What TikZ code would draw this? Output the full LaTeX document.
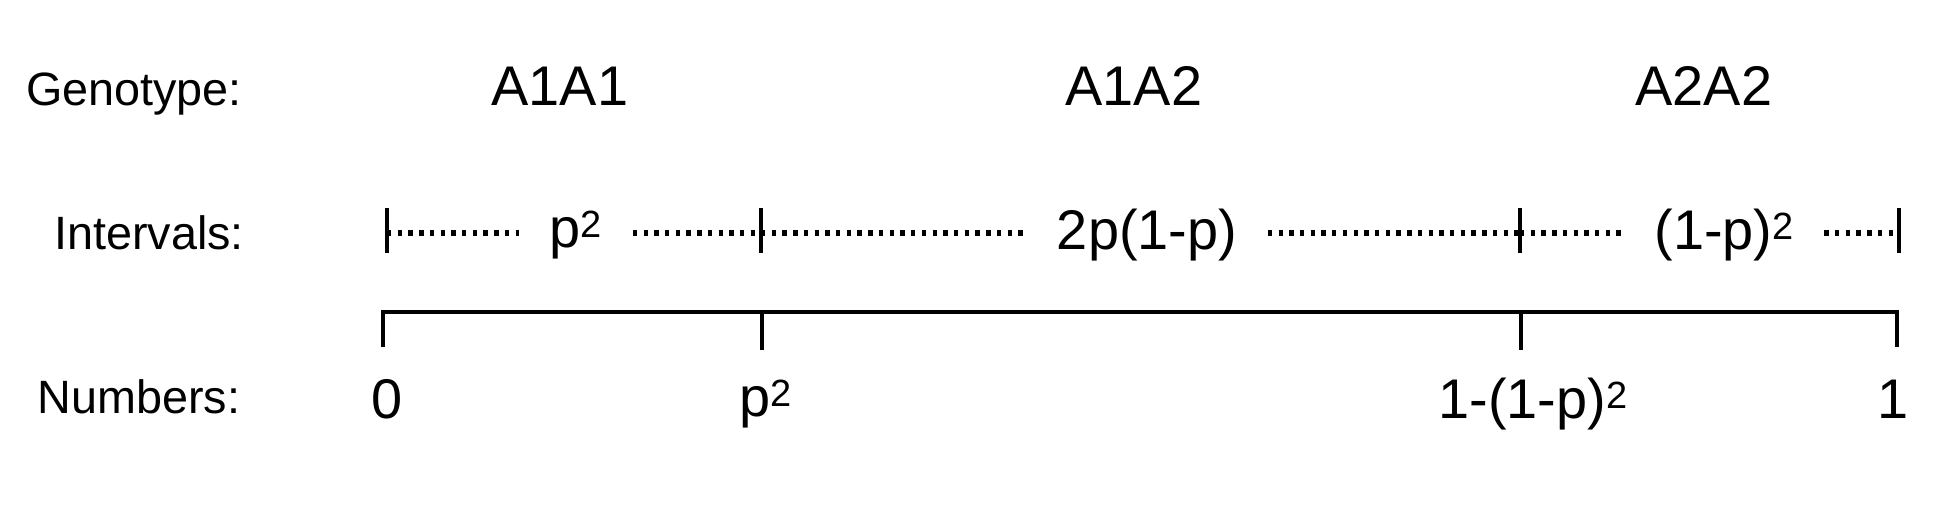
\documentclass[tikz,border=0pt]{standalone}
\usepackage{fontspec}
\setmainfont{Liberation Sans}

% small raised 2 in the text font
\newcommand{\sqtwo}{\raisebox{2.9pt}{\fontsize{10.8}{12}\selectfont 2}}

\begin{document}
\begin{tikzpicture}[
every node/.style={inner sep=0pt, anchor=base},
rowlabel/.style={font=\fontsize{13.3}{16}\selectfont},
genolabel/.style={font=\fontsize{15.9}{19}\selectfont},
intlabel/.style={font=\fontsize{15.9}{19}\selectfont, inner xsep=0.3cm},
numlabel/.style={font=\fontsize{15.9}{19}\selectfont},
tick/.style={line width=1.15pt},
axisline/.style={line width=1.15pt},
dotline/.style={line width=1.45pt, dash pattern=on 1.25pt off 1.8pt}
]

\useasboundingbox (0,0) rectangle (19.5,-5.09);

% =====================================================
% Row labels
% =====================================================

\node (genotype) [rowlabel] at (1.34,-1.06) {Genotype:};
\node (intervals) [rowlabel] at (1.49,-2.50) {Intervals:};
\node (numbers) [rowlabel] at (1.39,-4.14) {Numbers:};

% =====================================================
% Genotypes
% =====================================================

\node (aa11) [genolabel] at (5.60,-1.06) {A1A1};
\node (aa12) [genolabel] at (11.34,-1.06) {A1A2};
\node (aa22) [genolabel] at (17.04,-1.06) {A2A2};

% =====================================================
% Intervals
% =====================================================

\coordinate (i0) at (3.87,-2.33);
\coordinate (i1) at (7.61,-2.33);
\coordinate (i2) at (15.20,-2.33);
\coordinate (i3) at (18.99,-2.33);

\node (ihom1) [intlabel] at (5.76,-2.48) {p\sqtwo};
\node (ihet) [intlabel] at (11.47,-2.50) {2p(1-p)};
\node (ihom2) [intlabel] at (17.24,-2.50) {(1-p)\sqtwo};

\foreach \t in {i0,i1,i2,i3}
  \draw [tick] ([yshift=0.25cm]\t) -- ([yshift=-0.20cm]\t);

\draw [dotline] (i0) -- (ihom1.west |- i0);
\draw [dotline] (ihom1.east |- i0) -- (i1);
\draw [dotline] (i1) -- (ihet.west |- i0);
\draw [dotline] (ihet.east |- i0) -- (i2);
\draw [dotline] (i2) -- (ihom2.west |- i0);
\draw [dotline] (ihom2.east |- i0) -- (i3);

% =====================================================
% Number line
% =====================================================

\coordinate (n0) at (3.83,-3.12);
\coordinate (n1) at (7.62,-3.12);
\coordinate (n2) at (15.21,-3.12);
\coordinate (n3) at (18.97,-3.12);

\draw [axisline] ([yshift=-0.35cm]n0) -- (n0) -- (n3) -- ([yshift=-0.35cm]n3);
\draw [tick] (n1) -- ([yshift=-0.38cm]n1);
\draw [tick] (n2) -- ([yshift=-0.38cm]n2);

\node (num0) [numlabel] at ([xshift=0.04cm,yshift=-1.07cm]n0) {0};
\node (num1) [numlabel] at ([xshift=0.04cm,yshift=-1.05cm]n1) {p\sqtwo};
\node (num2) [numlabel] at ([xshift=0.12cm,yshift=-1.07cm]n2) {1-(1-p)\sqtwo};
\node (num3) [numlabel] at ([xshift=-0.04cm,yshift=-1.07cm]n3) {1};

\end{tikzpicture}
\end{document}
